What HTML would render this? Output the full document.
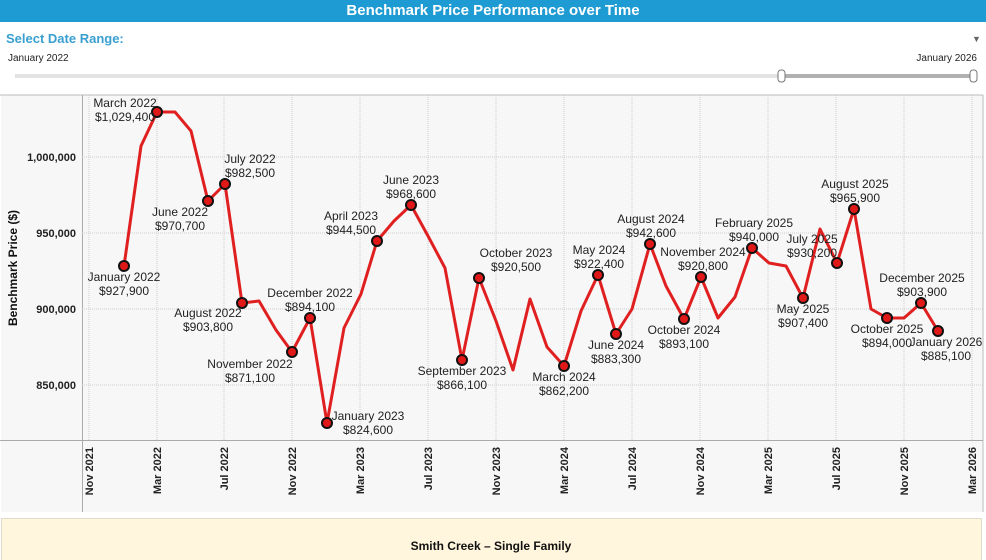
<!DOCTYPE html>
<html><head><meta charset="utf-8"><style>
body{margin:0;width:986px;height:560px;background:#fff;font-family:"Liberation Sans",Arial,sans-serif;overflow:hidden;position:relative}
.hdr{position:absolute;left:0;top:0;width:986px;height:22px;background:#1f9bd3;color:#fff;font-weight:bold;font-size:15px;text-align:center;line-height:22px}
</style></head><body>
<div class="hdr">Benchmark Price Performance over Time</div>
<svg width="986" height="560" style="position:absolute;left:0;top:0" font-family="Liberation Sans, Arial, sans-serif">
<text x="6" y="43" font-size="13" font-weight="bold" fill="#3a9fd0">Select Date Range:</text>
<text x="972" y="42" font-size="9" fill="#666">▼</text>
<text x="8" y="61" font-size="10" fill="#222">January 2022</text>
<text x="977" y="61" font-size="10" fill="#222" text-anchor="end">January 2026</text>
<rect x="15" y="74" width="960" height="4" fill="#e3e3e3"/>
<rect x="782" y="74" width="192" height="4" fill="#b0b0b0"/>
<rect x="778" y="70" width="7" height="12" rx="3" fill="#fff" stroke="#777"/>
<rect x="970" y="70" width="7" height="12" rx="3" fill="#fff" stroke="#777"/>
<rect x="1" y="95" width="982" height="417" fill="#f7f7f7"/>
<line x1="0" y1="95" x2="983" y2="95" stroke="#bbb"/>
<line x1="983" y1="95" x2="983" y2="512" stroke="#bbb"/>
<line x1="82.5" y1="95" x2="82.5" y2="512" stroke="#aaa"/>
<line x1="0" y1="440.5" x2="983" y2="440.5" stroke="#aaa"/>
<g stroke="#ccc" stroke-dasharray="1,1">
<line x1="82" y1="157" x2="983" y2="157"/><line x1="82" y1="233" x2="983" y2="233"/><line x1="82" y1="309" x2="983" y2="309"/><line x1="82" y1="385" x2="983" y2="385"/>
<line x1="89" y1="95" x2="89" y2="440"/><line x1="157" y1="95" x2="157" y2="440"/><line x1="224" y1="95" x2="224" y2="440"/><line x1="292" y1="95" x2="292" y2="440"/><line x1="360" y1="95" x2="360" y2="440"/><line x1="428" y1="95" x2="428" y2="440"/><line x1="496" y1="95" x2="496" y2="440"/><line x1="564" y1="95" x2="564" y2="440"/><line x1="632" y1="95" x2="632" y2="440"/><line x1="700" y1="95" x2="700" y2="440"/><line x1="768" y1="95" x2="768" y2="440"/><line x1="836" y1="95" x2="836" y2="440"/><line x1="904" y1="95" x2="904" y2="440"/><line x1="972" y1="95" x2="972" y2="440"/>
</g>
<g font-size="11" font-weight="bold" fill="#222" text-anchor="end">
<text x="76" y="161">1,000,000</text><text x="76" y="237">950,000</text><text x="76" y="313">900,000</text><text x="76" y="389">850,000</text>
</g>
<text transform="translate(17,268) rotate(-90)" font-size="12" font-weight="bold" text-anchor="middle" fill="#111">Benchmark Price ($)</text>
<g font-size="11" font-weight="bold" fill="#222" text-anchor="end">
<text transform="translate(93,447) rotate(-90)">Nov 2021</text>
<text transform="translate(161,447) rotate(-90)">Mar 2022</text>
<text transform="translate(228,447) rotate(-90)">Jul 2022</text>
<text transform="translate(296,447) rotate(-90)">Nov 2022</text>
<text transform="translate(364,447) rotate(-90)">Mar 2023</text>
<text transform="translate(432,447) rotate(-90)">Jul 2023</text>
<text transform="translate(500,447) rotate(-90)">Nov 2023</text>
<text transform="translate(568,447) rotate(-90)">Mar 2024</text>
<text transform="translate(636,447) rotate(-90)">Jul 2024</text>
<text transform="translate(704,447) rotate(-90)">Nov 2024</text>
<text transform="translate(772,447) rotate(-90)">Mar 2025</text>
<text transform="translate(840,447) rotate(-90)">Jul 2025</text>
<text transform="translate(908,447) rotate(-90)">Nov 2025</text>
<text transform="translate(976,447) rotate(-90)">Mar 2026</text>
</g>
<polyline fill="none" stroke="#e02020" stroke-width="3" stroke-linejoin="round" points="124,266 141,146 157,112 175,112 191,131 208,201 225,184 242,303 259,301 276,330 292,352 310,318 327,423 344,328 361,294 377,241 394,221 411,205 428,236 445,268 462,360 479,278 496,321 513,370 530,299 547,347 564,366 581,311 598,275 616,334 632,309 650,244 666,286 684,319 701,277 718,318 735,297 752,248 769,263 786,266 803,298 820,229 837,263 854,209 871,309 887,318 904,318 921,303 938,331"/>
<g fill="#e01818" stroke="#111" stroke-width="2">
<circle cx="124" cy="266" r="5"/><circle cx="157" cy="112" r="5"/><circle cx="208" cy="201" r="5"/><circle cx="225" cy="184" r="5"/><circle cx="242" cy="303" r="5"/><circle cx="292" cy="352" r="5"/><circle cx="310" cy="318" r="5"/><circle cx="327" cy="423" r="5"/><circle cx="377" cy="241" r="5"/><circle cx="411" cy="205" r="5"/><circle cx="462" cy="360" r="5"/><circle cx="479" cy="278" r="5"/><circle cx="564" cy="366" r="5"/><circle cx="598" cy="275" r="5"/><circle cx="616" cy="334" r="5"/><circle cx="650" cy="244" r="5"/><circle cx="684" cy="319" r="5"/><circle cx="701" cy="277" r="5"/><circle cx="752" cy="248" r="5"/><circle cx="803" cy="298" r="5"/><circle cx="837" cy="263" r="5"/><circle cx="854" cy="209" r="5"/><circle cx="887" cy="318" r="5"/><circle cx="921" cy="303" r="5"/><circle cx="938" cy="331" r="5"/>
</g>
<g font-size="12" fill="#222" text-anchor="middle">
<text x="125" y="107">March 2022</text><text x="125" y="121">$1,029,400</text>
<text x="124" y="281">January 2022</text><text x="124" y="295">$927,900</text>
<text x="180" y="216">June 2022</text><text x="180" y="230">$970,700</text>
<text x="250" y="163">July 2022</text><text x="250" y="177">$982,500</text>
<text x="208" y="317">August 2022</text><text x="208" y="331">$903,800</text>
<text x="250" y="368">November 2022</text><text x="250" y="382">$871,100</text>
<text x="310" y="297">December 2022</text><text x="310" y="311">$894,100</text>
<text x="368" y="420">January 2023</text><text x="368" y="434">$824,600</text>
<text x="351" y="220">April 2023</text><text x="351" y="234">$944,500</text>
<text x="411" y="184">June 2023</text><text x="411" y="198">$968,600</text>
<text x="462" y="375">September 2023</text><text x="462" y="389">$866,100</text>
<text x="516" y="257">October 2023</text><text x="516" y="271">$920,500</text>
<text x="564" y="381">March 2024</text><text x="564" y="395">$862,200</text>
<text x="599" y="254">May 2024</text><text x="599" y="268">$922,400</text>
<text x="616" y="349">June 2024</text><text x="616" y="363">$883,300</text>
<text x="651" y="223">August 2024</text><text x="651" y="237">$942,600</text>
<text x="684" y="334">October 2024</text><text x="684" y="348">$893,100</text>
<text x="703" y="256">November 2024</text><text x="703" y="270">$920,800</text>
<text x="754" y="227">February 2025</text><text x="754" y="241">$940,000</text>
<text x="812" y="243">July 2025</text><text x="812" y="257">$930,200</text>
<text x="803" y="313">May 2025</text><text x="803" y="327">$907,400</text>
<text x="855" y="188">August 2025</text><text x="855" y="202">$965,900</text>
<text x="887" y="333">October 2025</text><text x="887" y="347">$894,000</text>
<text x="922" y="282">December 2025</text><text x="922" y="296">$903,900</text>
<text x="946" y="346">January 2026</text><text x="946" y="360">$885,100</text>
</g>
<rect x="1.5" y="518.5" width="980" height="45" fill="#fff6dd" stroke="#e0dccc"/>
<text x="491" y="550" font-size="12" font-weight="bold" fill="#111" text-anchor="middle">Smith Creek – Single Family</text>
</svg>
</body></html>
